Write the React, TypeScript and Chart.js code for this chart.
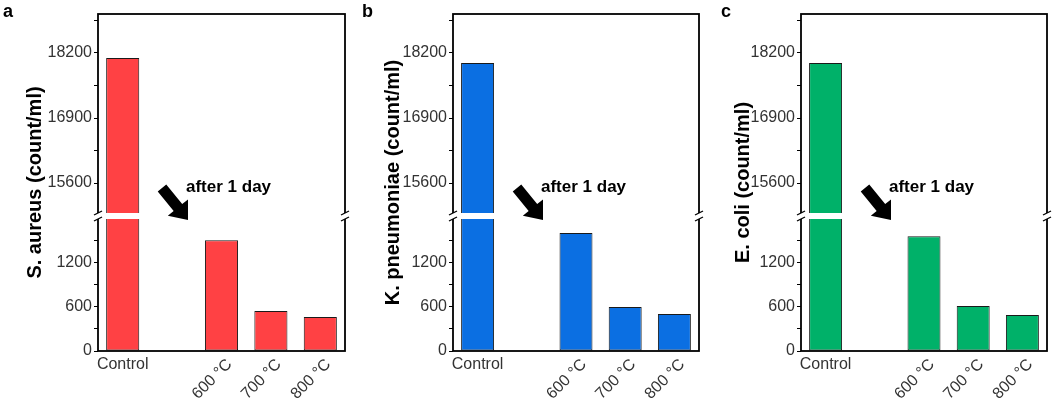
import React, { useEffect, useRef } from 'react';
import { Chart, registerables } from 'chart.js';

Chart.register(...registerables);

// ---------- data ----------
const categories = ['Control', '', '600 °C', '700 °C', '800 °C'];
const sAureus = [18100, null, 1510, 545, 462];
const kPneumoniae = [18000, null, 1610, 600, 505];
const eColi = [18000, null, 1565, 612, 490];

const upperMajorTicks = [15600, 16900, 18200];
const upperMinorTicks = [16250, 17550, 18850];
const lowerMajorTicks = [0, 600, 1200];
const lowerMinorTicks = [300, 900, 1500];
const upperRange = [14940, 18980];
const lowerRange = [0, 1840];

const FONT = 'Arial, "Liberation Sans", sans-serif';

type PanelCfg = {
  letter: string;
  title: string;
  values: (number | null)[];
  color: string;
  left: number;
  width: number;
  padRight: number;
  titleOffset: number;
  letterX: number;
};

const panels: PanelCfg[] = [
  { letter: 'a', title: 'S. aureus (count/ml)', values: sAureus, color: '#FF4144', left: 0, width: 350, padRight: 5, titleOffset: 63, letterX: 3 },
  { letter: 'b', title: 'K. pneumoniae (count/ml)', values: kPneumoniae, color: '#0B6FE2', left: 355, width: 350, padRight: 6, titleOffset: 60, letterX: 7 },
  { letter: 'c', title: 'E. coli (count/ml)', values: eColi, color: '#00B169', left: 703, width: 349, padRight: 5, titleOffset: 58, letterX: 18 },
];

function Panel({ cfg }: { cfg: PanelCfg }) {
  const ref = useRef<HTMLCanvasElement | null>(null);

  useEffect(() => {
    const canvas = ref.current;
    if (!canvas) return;

    const lowData = cfg.values.map((v) => (v == null ? null : [lowerRange[0], Math.min(v, lowerRange[1])]));
    const highData = cfg.values.map((v) => (v != null && v > upperRange[0] ? [upperRange[0], v] : null));

    const barCommon = {
      backgroundColor: cfg.color,
      borderColor: '#1a1a1a',
      borderWidth: 1,
      borderSkipped: false,
      barPercentage: 0.67,
      categoryPercentage: 1,
      grouped: false,
    };

    const decor = {
      id: 'decor',
      afterDatasetsDraw(chart: any) {
        const ctx = chart.ctx;
        const a = chart.chartArea;
        const b = chart.scales.yLow.top;
        ctx.save();
        // frame
        ctx.strokeStyle = '#000';
        ctx.lineWidth = 1.8;
        ctx.strokeRect(a.left, a.top, a.right - a.left, a.bottom - a.top);
        // break band
        ctx.fillStyle = '#fff';
        ctx.fillRect(a.left - 6, b - 3, a.right - a.left + 12, 6);
        // break slashes
        ctx.lineWidth = 1.3;
        ctx.strokeStyle = '#000';
        for (const x of [a.left, a.right]) {
          for (const y of [b - 3, b + 3]) {
            ctx.beginPath();
            ctx.moveTo(x - 4, y + 2);
            ctx.lineTo(x + 4, y - 2);
            ctx.stroke();
          }
        }
        ctx.restore();
      },
      afterDraw(chart: any) {
        const ctx = chart.ctx;
        const a = chart.chartArea;
        const xs = chart.scales.x;
        ctx.save();
        // x labels
        ctx.fillStyle = '#333';
        ctx.font = `16px ${FONT}`;
        categories.forEach((lab, i) => {
          if (!lab) return;
          const x = xs.getPixelForValue(i);
          if (i === 0) {
            ctx.textAlign = 'center';
            ctx.textBaseline = 'top';
            ctx.fillText(lab, x, a.bottom + 6);
          } else {
            ctx.save();
            ctx.translate(x + 8, a.bottom + 11);
            ctx.rotate(-Math.PI / 4);
            ctx.textAlign = 'right';
            ctx.textBaseline = 'middle';
            ctx.fillText(lab, 0, 0);
            ctx.restore();
          }
        });
        // y title
        ctx.save();
        ctx.translate(a.left - cfg.titleOffset, (a.top + a.bottom) / 2);
        ctx.rotate(-Math.PI / 2);
        ctx.fillStyle = '#000';
        ctx.font = `bold 20px ${FONT}`;
        ctx.textAlign = 'center';
        ctx.textBaseline = 'middle';
        ctx.fillText(cfg.title, 0, 0);
        ctx.restore();
        // panel letter
        ctx.fillStyle = '#000';
        ctx.font = `bold 18px ${FONT}`;
        ctx.textAlign = 'left';
        ctx.textBaseline = 'alphabetic';
        ctx.fillText(cfg.letter, cfg.letterX, 17);
        // annotation text
        ctx.font = `bold 17px ${FONT}`;
        ctx.fillText('after 1 day', a.left + 88, a.top + 178);
        // arrow
        const tx = a.left + 64, ty = a.top + 174;
        const hx = a.left + 90, hy = a.top + 206;
        const dx = hx - tx, dy = hy - ty;
        const len = Math.hypot(dx, dy);
        const ux = dx / len, uy = dy / len;
        const px = -uy, py = ux;
        const shaftW = 5.5, headW = 13, headL = 16;
        const bx = hx - ux * headL, by = hy - uy * headL;
        ctx.beginPath();
        ctx.moveTo(tx + px * shaftW, ty + py * shaftW);
        ctx.lineTo(bx + px * shaftW, by + py * shaftW);
        ctx.lineTo(bx + px * headW, by + py * headW);
        ctx.lineTo(hx, hy);
        ctx.lineTo(bx - px * headW, by - py * headW);
        ctx.lineTo(bx - px * shaftW, by - py * shaftW);
        ctx.lineTo(tx - px * shaftW, ty - py * shaftW);
        ctx.closePath();
        ctx.fill();
        ctx.restore();
      },
    };

    const yCommon = (major: number[], minor: number[]) => ({
      type: 'linear' as const,
      position: 'left' as const,
      stack: 'y',
      afterBuildTicks: (s: any) => {
        s.ticks = [...major, ...minor].sort((p, q) => p - q).map((v) => ({ value: v }));
      },
      afterFit: (s: any) => {
        s.width = 98;
      },
      ticks: {
        autoSkip: false,
        padding: 2,
        color: '#333',
        font: { size: 16, family: FONT },
        callback: (v: any) => (major.includes(v) ? String(v) : ''),
      },
      grid: { drawOnChartArea: false, tickLength: 4, tickColor: '#000', color: '#000' },
      border: { display: false },
    });

    const chart = new Chart(canvas, {
      type: 'bar',
      data: {
        labels: categories,
        datasets: [
          { ...barCommon, data: lowData as any, yAxisID: 'yLow' },
          { ...barCommon, data: highData as any, yAxisID: 'yHigh' },
        ],
      },
      options: {
        animation: false,
        responsive: false,
        devicePixelRatio: 1,
        layout: { padding: { left: 0, right: cfg.padRight, top: 14, bottom: 0 } },
        plugins: { legend: { display: false }, tooltip: { enabled: false } },
        scales: {
          x: {
            type: 'category',
            offset: true,
            grid: { display: false },
            border: { display: false },
            ticks: { display: false },
            afterFit: (s: any) => {
              s.height = 52;
            },
          },
          yLow: {
            ...yCommon(lowerMajorTicks, lowerMinorTicks),
            min: lowerRange[0],
            max: lowerRange[1],
            stackWeight: 135,
            weight: 1,
          },
          yHigh: {
            ...yCommon(upperMajorTicks, upperMinorTicks),
            min: upperRange[0],
            max: upperRange[1],
            stackWeight: 202,
            weight: 2,
          },
        } as any,
      },
      plugins: [decor],
    });

    return () => chart.destroy();
  }, [cfg]);

  return (
    <canvas
      ref={ref}
      width={cfg.width}
      height={403}
      style={{ position: 'absolute', left: cfg.left, top: 0, display: 'block' }}
    />
  );
}

export default function App() {
  return (
    <div style={{ position: 'absolute', left: 0, top: 0, width: 1052, height: 403, background: '#fff', overflow: 'hidden' }}>
      {panels.map((p) => (
        <Panel key={p.letter} cfg={p} />
      ))}
    </div>
  );
}
